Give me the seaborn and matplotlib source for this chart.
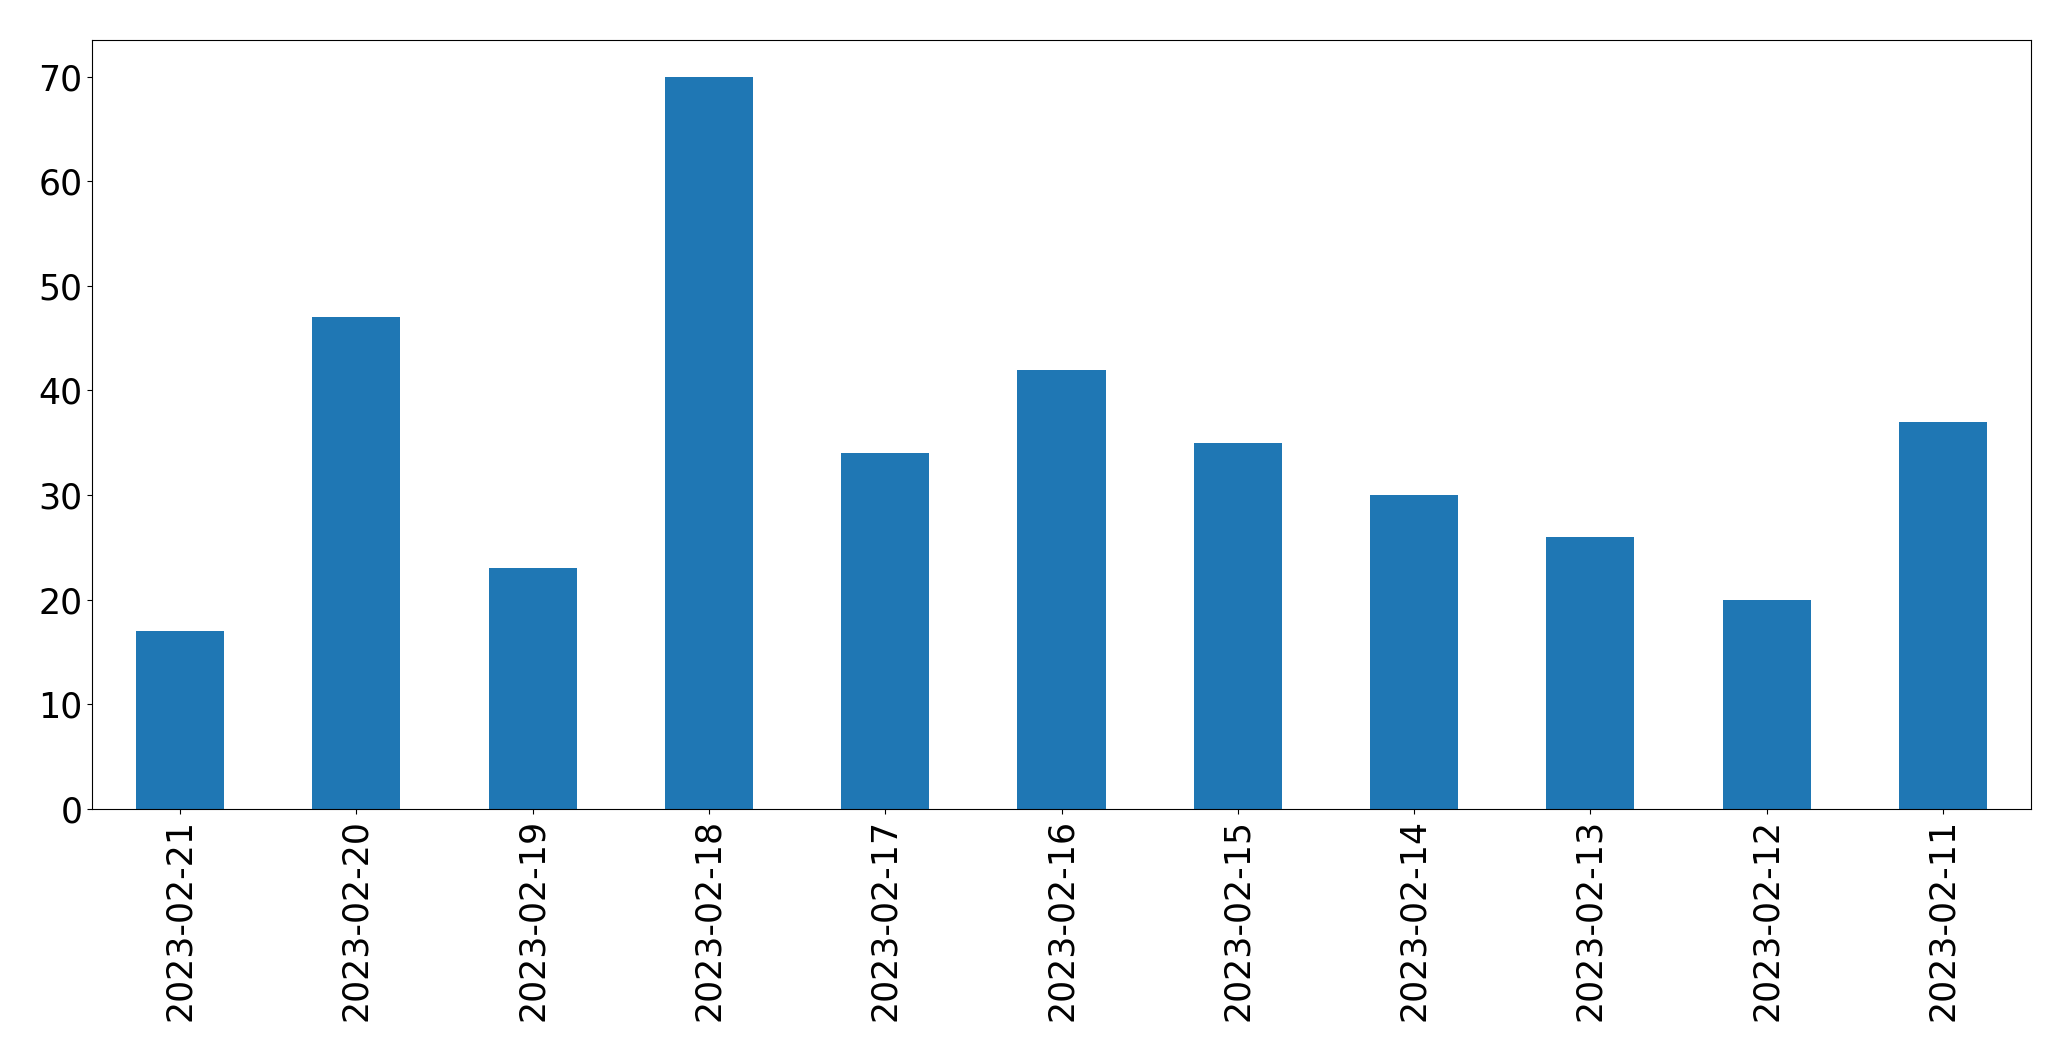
import matplotlib
matplotlib.use("Agg")
import matplotlib.pyplot as plt
import seaborn as sns
import pandas as pd

dates = ["2023-02-21", "2023-02-20", "2023-02-19", "2023-02-18", "2023-02-17",
         "2023-02-16", "2023-02-15", "2023-02-14", "2023-02-13", "2023-02-12", "2023-02-11"]
counts = [17, 47, 23, 70, 34, 42, 35, 30, 26, 20, 37]

df = pd.DataFrame({"date": dates, "count": counts})

fig = plt.figure(figsize=(20.71, 10.61), dpi=100)
ax = fig.add_axes([92/2071, 1 - 809/1061, (2031-92)/2071, (809-40)/1061])
sns.barplot(data=df, x="date", y="count", order=dates, color="#1f77b4",
            saturation=1, width=0.5, ax=ax)
ax.set_xlim(-0.5, len(dates) - 0.5)
ax.set_ylim(0, 73.5)
ax.set_xlabel("")
ax.set_ylabel("")
ax.tick_params(axis="both", labelsize=25)
ax.tick_params(axis="x", labelrotation=90)
for s in ax.spines.values():
    s.set_visible(True)
fig.savefig("out.png", dpi=100)
